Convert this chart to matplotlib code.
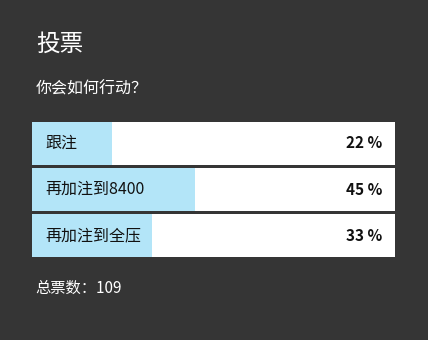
import matplotlib.pyplot as plt

plt.rcParams['font.family'] = ['Noto Sans CJK SC', 'DejaVu Sans']

BG = '#353535'
FILL = '#b3e5f8'

title = '投票'
question = '你会如何行动？'
options = ['跟注', '再加注到8400', '再加注到全压']
percents = [22, 45, 33]
total_votes = 109

W, H = 428, 340
fig = plt.figure(figsize=(W / 100, H / 100), dpi=100, facecolor=BG)

# bar panel, placed in pixel terms
left, top, right, bottom = 32, 122, 395, 257
ax = fig.add_axes([left / W, 1 - bottom / H, (right - left) / W, (bottom - top) / H])
ax.set_facecolor(BG)
ys = list(range(len(options)))
bar_h = 0.928
ax.barh(ys, [100] * len(options), height=bar_h, color='white', left=0)
ax.barh(ys, percents, height=bar_h, color=FILL, left=0)
ax.set_xlim(0, 100)
ax.set_ylim(len(options) - 1 + bar_h / 2, -bar_h / 2)
ax.axis('off')

for y, name, p in zip(ys, options, percents):
    ax.text(3.6, y, name, va='center', ha='left', fontsize=11.5, color='#111111')
    ax.text(96.5, y, f'{p} %', va='center', ha='right', fontsize=11,
            fontweight='bold', color='#111111')

fig.text(36 / W, 1 - 44 / H, title, fontsize=17, color='white', va='center', ha='left')
fig.text(36 / W, 1 - 89 / H, question, fontsize=11.5, color='white', va='center', ha='left')
fig.text(35 / W, 1 - 288 / H, f'总票数：{total_votes}', fontsize=11, color='white',
         va='center', ha='left')

fig.savefig('out.png', dpi=100, facecolor=BG)
